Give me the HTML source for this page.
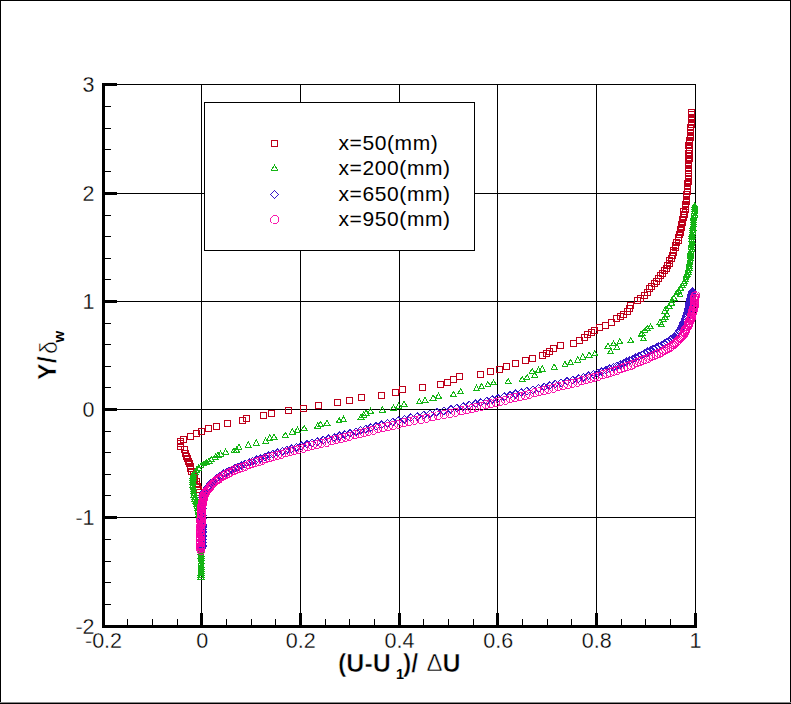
<!DOCTYPE html>
<html lang="en">
<head>
<meta charset="utf-8">
<title>Velocity profiles</title>
<style>html,body{margin:0;padding:0;background:#fff;overflow:hidden}svg{display:block}</style>
</head>
<body>
<svg width="791" height="704" viewBox="0 0 791 704" role="img" aria-label="Normalised velocity profiles">
<rect x="0" y="0" width="791" height="704" fill="#fff"/>
<g shape-rendering="crispEdges" fill="#000">
<rect x="201" y="84" width="1" height="542"/>
<rect x="300" y="84" width="1" height="542"/>
<rect x="399" y="84" width="1" height="542"/>
<rect x="497" y="84" width="1" height="542"/>
<rect x="596" y="84" width="1" height="542"/>
<rect x="695" y="84" width="1" height="542"/>
<rect x="103" y="517" width="593" height="1"/>
<rect x="103" y="409" width="593" height="1"/>
<rect x="103" y="301" width="593" height="1"/>
<rect x="103" y="193" width="593" height="1"/>
<rect x="103" y="84" width="593" height="1"/>
<rect x="102" y="83" width="3" height="545"/>
<rect x="102" y="625" width="595" height="3"/>
<rect x="103" y="604" width="8" height="1"/>
<rect x="103" y="582" width="8" height="1"/>
<rect x="103" y="561" width="8" height="1"/>
<rect x="103" y="539" width="8" height="1"/>
<rect x="103" y="516" width="14" height="3"/>
<rect x="103" y="495" width="8" height="1"/>
<rect x="103" y="474" width="8" height="1"/>
<rect x="103" y="452" width="8" height="1"/>
<rect x="103" y="431" width="8" height="1"/>
<rect x="103" y="408" width="14" height="3"/>
<rect x="103" y="387" width="8" height="1"/>
<rect x="103" y="366" width="8" height="1"/>
<rect x="103" y="344" width="8" height="1"/>
<rect x="103" y="323" width="8" height="1"/>
<rect x="103" y="300" width="14" height="3"/>
<rect x="103" y="279" width="8" height="1"/>
<rect x="103" y="258" width="8" height="1"/>
<rect x="103" y="236" width="8" height="1"/>
<rect x="103" y="215" width="8" height="1"/>
<rect x="103" y="192" width="14" height="3"/>
<rect x="103" y="171" width="8" height="1"/>
<rect x="103" y="149" width="8" height="1"/>
<rect x="103" y="128" width="8" height="1"/>
<rect x="103" y="106" width="8" height="1"/>
<rect x="103" y="83" width="14" height="3"/>
<rect x="127" y="619" width="1" height="8"/>
<rect x="152" y="619" width="1" height="8"/>
<rect x="177" y="619" width="1" height="8"/>
<rect x="200" y="613" width="3" height="14"/>
<rect x="226" y="619" width="1" height="8"/>
<rect x="251" y="619" width="1" height="8"/>
<rect x="275" y="619" width="1" height="8"/>
<rect x="299" y="613" width="3" height="14"/>
<rect x="325" y="619" width="1" height="8"/>
<rect x="349" y="619" width="1" height="8"/>
<rect x="374" y="619" width="1" height="8"/>
<rect x="398" y="613" width="3" height="14"/>
<rect x="423" y="619" width="1" height="8"/>
<rect x="448" y="619" width="1" height="8"/>
<rect x="473" y="619" width="1" height="8"/>
<rect x="496" y="613" width="3" height="14"/>
<rect x="522" y="619" width="1" height="8"/>
<rect x="547" y="619" width="1" height="8"/>
<rect x="571" y="619" width="1" height="8"/>
<rect x="595" y="613" width="3" height="14"/>
<rect x="621" y="619" width="1" height="8"/>
<rect x="645" y="619" width="1" height="8"/>
<rect x="670" y="619" width="1" height="8"/>
<rect x="694" y="613" width="3" height="14"/>
</g>
<g fill="none" stroke-width="1" shape-rendering="crispEdges">
<path stroke="#be001a" d="M196.5 489.5h6v6h-6zM195.5 486.5h6v6h-6zM194.5 483.5h6v6h-6zM193.5 481.5h6v6h-6zM193.5 478.5h6v6h-6zM191.5 476.5h6v6h-6zM191.5 473.5h6v6h-6zM190.5 471.5h6v6h-6zM188.5 468.5h6v6h-6zM187.5 465.5h6v6h-6zM187.5 463.5h6v6h-6zM186.5 460.5h6v6h-6zM185.5 458.5h6v6h-6zM184.5 455.5h6v6h-6zM183.5 453.5h6v6h-6zM182.5 450.5h6v6h-6zM181.5 446.5h6v6h-6zM177.5 443.5h6v6h-6zM177.5 440.5h6v6h-6zM177.5 438.5h6v6h-6zM180.5 436.5h6v6h-6zM187.5 433.5h6v6h-6zM193.5 430.5h6v6h-6zM198.5 428.5h6v6h-6zM205.5 425.5h6v6h-6zM213.5 423.5h6v6h-6zM224.5 420.5h6v6h-6zM239.5 417.5h6v6h-6zM243.5 415.5h6v6h-6zM260.5 412.5h6v6h-6zM268.5 410.5h6v6h-6zM285.5 407.5h6v6h-6zM300.5 405.5h6v6h-6zM315.5 402.5h6v6h-6zM334.5 399.5h6v6h-6zM346.5 397.5h6v6h-6zM358.5 394.5h6v6h-6zM378.5 392.5h6v6h-6zM392.5 389.5h6v6h-6zM399.5 386.5h6v6h-6zM419.5 384.5h6v6h-6zM437.5 381.5h6v6h-6zM444.5 379.5h6v6h-6zM450.5 376.5h6v6h-6zM456.5 373.5h6v6h-6zM477.5 371.5h6v6h-6zM487.5 368.5h6v6h-6zM496.5 366.5h6v6h-6zM503.5 363.5h6v6h-6zM512.5 360.5h6v6h-6zM522.5 357.5h6v6h-6zM529.5 355.5h6v6h-6zM539.5 352.5h6v6h-6zM543.5 350.5h6v6h-6zM546.5 348.5h6v6h-6zM550.5 345.5h6v6h-6zM557.5 342.5h6v6h-6zM570.5 340.5h6v6h-6zM576.5 337.5h6v6h-6zM581.5 334.5h6v6h-6zM584.5 331.5h6v6h-6zM588.5 329.5h6v6h-6zM591.5 327.5h6v6h-6zM596.5 324.5h6v6h-6zM602.5 322.5h6v6h-6zM608.5 319.5h6v6h-6zM613.5 315.5h6v6h-6zM617.5 313.5h6v6h-6zM620.5 311.5h6v6h-6zM624.5 308.5h6v6h-6zM626.5 305.5h6v6h-6zM627.5 302.5h6v6h-6zM634.5 297.5h6v6h-6zM637.5 295.5h6v6h-6zM641.5 292.5h6v6h-6zM644.5 289.5h6v6h-6zM646.5 285.5h6v6h-6zM648.5 283.5h6v6h-6zM651.5 280.5h6v6h-6zM653.5 278.5h6v6h-6zM655.5 275.5h6v6h-6zM657.5 272.5h6v6h-6zM659.5 270.5h6v6h-6zM661.5 267.5h6v6h-6zM663.5 265.5h6v6h-6zM664.5 262.5h6v6h-6zM666.5 260.5h6v6h-6zM666.5 257.5h6v6h-6zM668.5 255.5h6v6h-6zM669.5 252.5h6v6h-6zM670.5 249.5h6v6h-6zM670.5 247.5h6v6h-6zM672.5 244.5h6v6h-6zM672.5 242.5h6v6h-6zM673.5 239.5h6v6h-6zM675.5 237.5h6v6h-6zM675.5 234.5h6v6h-6zM676.5 231.5h6v6h-6zM677.5 229.5h6v6h-6zM677.5 226.5h6v6h-6zM678.5 224.5h6v6h-6zM678.5 221.5h6v6h-6zM679.5 219.5h6v6h-6zM679.5 216.5h6v6h-6zM680.5 214.5h6v6h-6zM681.5 211.5h6v6h-6zM680.5 208.5h6v6h-6zM682.5 206.5h6v6h-6zM682.5 203.5h6v6h-6zM682.5 201.5h6v6h-6zM683.5 198.5h6v6h-6zM683.5 196.5h6v6h-6zM683.5 193.5h6v6h-6zM683.5 191.5h6v6h-6zM684.5 188.5h6v6h-6zM684.5 185.5h6v6h-6zM684.5 183.5h6v6h-6zM684.5 180.5h6v6h-6zM685.5 178.5h6v6h-6zM685.5 175.5h6v6h-6zM685.5 173.5h6v6h-6zM685.5 170.5h6v6h-6zM685.5 167.5h6v6h-6zM685.5 165.5h6v6h-6zM685.5 162.5h6v6h-6zM685.5 160.5h6v6h-6zM685.5 157.5h6v6h-6zM686.5 155.5h6v6h-6zM686.5 152.5h6v6h-6zM685.5 150.5h6v6h-6zM686.5 147.5h6v6h-6zM686.5 144.5h6v6h-6zM685.5 142.5h6v6h-6zM686.5 139.5h6v6h-6zM686.5 137.5h6v6h-6zM687.5 134.5h6v6h-6zM687.5 132.5h6v6h-6zM687.5 129.5h6v6h-6zM687.5 127.5h6v6h-6zM687.5 124.5h6v6h-6zM688.5 121.5h6v6h-6zM688.5 119.5h6v6h-6zM688.5 116.5h6v6h-6zM688.5 114.5h6v6h-6zM688.5 111.5h6v6h-6zM688.5 109.5h6v6h-6z"/>
<path stroke="#14b414" d="M201 573.9l2.9 5.1h-5.8zM201.2 572l2.9 5.1h-5.8zM201.1 570.1l2.9 5.1h-5.8zM201.4 568.2l2.9 5.1h-5.8zM201.3 566.3l2.9 5.1h-5.8zM201.2 564.4l2.9 5.1h-5.8zM201.3 562.5l2.9 5.1h-5.8zM201.1 560.6l2.9 5.1h-5.8zM201.4 558.7l2.9 5.1h-5.8zM201.2 556.8l2.9 5.1h-5.8zM201.3 554.9l2.9 5.1h-5.8zM200.9 553l2.9 5.1h-5.8zM201.3 551.1l2.9 5.1h-5.8zM200.9 549.2l2.9 5.1h-5.8zM200.8 547.3l2.9 5.1h-5.8zM201.1 545.4l2.9 5.1h-5.8zM201 543.5l2.9 5.1h-5.8zM201.2 541.6l2.9 5.1h-5.8zM201.6 539.7l2.9 5.1h-5.8zM201 537.8l2.9 5.1h-5.8zM201.1 535.9l2.9 5.1h-5.8zM201.2 534l2.9 5.1h-5.8zM201.3 532.1l2.9 5.1h-5.8zM201.1 530.2l2.9 5.1h-5.8zM201.1 528.3l2.9 5.1h-5.8zM201.2 526.4l2.9 5.1h-5.8zM201.1 524.5l2.9 5.1h-5.8zM200.6 522.6l2.9 5.1h-5.8zM200.7 520.7l2.9 5.1h-5.8zM200.6 518.8l2.9 5.1h-5.8zM200.1 516.9l2.9 5.1h-5.8zM199.9 515l2.9 5.1h-5.8zM199.2 513.1l2.9 5.1h-5.8zM199.1 511.2l2.9 5.1h-5.8zM198.4 509.3l2.9 5.1h-5.8zM198 507.4l2.9 5.1h-5.8zM197.4 505.5l2.9 5.1h-5.8zM197.1 503.6l2.9 5.1h-5.8zM196.3 501.7l2.9 5.1h-5.8zM196.1 499.8l2.9 5.1h-5.8zM195.9 497.9l2.9 5.1h-5.8zM195 496l2.9 5.1h-5.8zM195.1 494.1l2.9 5.1h-5.8zM194.1 492.2l2.9 5.1h-5.8zM194.2 490.3l2.9 5.1h-5.8zM193.5 488.4l2.9 5.1h-5.8zM193.6 486.5l2.9 5.1h-5.8zM193.2 484.6l2.9 5.1h-5.8zM192.7 482.7l2.9 5.1h-5.8zM193.1 480.8l2.9 5.1h-5.8zM193.1 478.9l2.9 5.1h-5.8zM192.8 477l2.9 5.1h-5.8zM192.9 475.1l2.9 5.1h-5.8zM193.1 473.2l2.9 5.1h-5.8zM193.3 471.3l2.9 5.1h-5.8zM195 469l2.9 5.1h-5.8zM196.6 467.2l2.9 5.1h-5.8zM198.6 465l2.9 5.1h-5.8zM201.2 462.8l2.9 5.1h-5.8zM204 460.8l2.9 5.1h-5.8zM206.3 459.4l2.9 5.1h-5.8zM209 457.9l2.9 5.1h-5.8zM211.5 456.6l2.9 5.1h-5.8zM215.4 454.1l2.9 5.1h-5.8zM218 452.2l2.9 5.1h-5.8zM220.5 450.9l2.9 5.1h-5.8zM225.6 449l2.9 5.1h-5.8zM234 447.7l2.9 5.1h-5.8zM236.5 447l2.9 5.1h-5.8zM239 444.4l2.9 5.1h-5.8zM248.3 441.9l2.9 5.1h-5.8zM256.3 440l2.9 5.1h-5.8zM265.7 438.1l2.9 5.1h-5.8zM269.7 434.9l2.9 5.1h-5.8zM274 434l2.9 5.1h-5.8zM285.3 432.2l2.9 5.1h-5.8zM292.4 428.9l2.9 5.1h-5.8zM297.4 427.2l2.9 5.1h-5.8zM304.2 425.4l2.9 5.1h-5.8zM317.6 422.9l2.9 5.1h-5.8zM320.7 421.4l2.9 5.1h-5.8zM327 420.1l2.9 5.1h-5.8zM339.1 417.8l2.9 5.1h-5.8zM343.4 416.3l2.9 5.1h-5.8zM361.1 414l2.9 5.1h-5.8zM363.7 412l2.9 5.1h-5.8zM366.2 410.2l2.9 5.1h-5.8zM370.5 408.2l2.9 5.1h-5.8zM382.4 406.9l2.9 5.1h-5.8zM393.5 404.9l2.9 5.1h-5.8zM398.6 403.1l2.9 5.1h-5.8zM404.1 401.1l2.9 5.1h-5.8zM419.3 398.8l2.9 5.1h-5.8zM425.1 397.3l2.9 5.1h-5.8zM433.2 395l2.9 5.1h-5.8zM438.5 393l2.9 5.1h-5.8zM453.4 391.4l2.9 5.1h-5.8zM460.6 388.7l2.9 5.1h-5.8zM476.5 385.4l2.9 5.1h-5.8zM481.6 383.6l2.9 5.1h-5.8zM487.9 381.6l2.9 5.1h-5.8zM493.5 379.8l2.9 5.1h-5.8zM508.2 378.5l2.9 5.1h-5.8zM522.1 376.5l2.9 5.1h-5.8zM527.1 374.7l2.9 5.1h-5.8zM534.7 372.2l2.9 5.1h-5.8zM532.2 368.4l2.9 5.1h-5.8zM538.5 367.2l2.9 5.1h-5.8zM542.3 365.9l2.9 5.1h-5.8zM554.2 364.1l2.9 5.1h-5.8zM565 361.6l2.9 5.1h-5.8zM570.6 359.6l2.9 5.1h-5.8zM577.7 357l2.9 5.1h-5.8zM582.7 354l2.9 5.1h-5.8zM589.1 352l2.9 5.1h-5.8zM594.9 350.7l2.9 5.1h-5.8zM610.6 348.7l2.9 5.1h-5.8zM616.9 344.4l2.9 5.1h-5.8zM608 343.1l2.9 5.1h-5.8zM613.5 340.8l2.9 5.1h-5.8zM619.9 338.8l2.9 5.1h-5.8zM630.8 337.6l2.9 5.1h-5.8zM643.4 335.6l2.9 5.1h-5.8zM641 331.4l2.9 5.1h-5.8zM642.2 330.5l2.9 5.1h-5.8zM645 327.7l2.9 5.1h-5.8zM647.2 325.4l2.9 5.1h-5.8zM650.5 323.8l2.9 5.1h-5.8zM661.4 321.4l2.9 5.1h-5.8zM660 319.2l2.9 5.1h-5.8zM663.8 316.8l2.9 5.1h-5.8zM665 313.9l2.9 5.1h-5.8zM666.9 311.3l2.9 5.1h-5.8zM664.5 308.4l2.9 5.1h-5.8zM666 305.8l2.9 5.1h-5.8zM669 303l2.9 5.1h-5.8zM671.6 300.4l2.9 5.1h-5.8zM672 297.6l2.9 5.1h-5.8zM673.9 294.9l2.9 5.1h-5.8zM680.2 291.8l2.9 5.1h-5.8zM677 289.8l2.9 5.1h-5.8zM678.6 287.9l2.9 5.1h-5.8zM680.5 285.2l2.9 5.1h-5.8zM682.5 282.4l2.9 5.1h-5.8zM684 280.4l2.9 5.1h-5.8zM684.4 278.5l2.9 5.1h-5.8zM685.4 276.6l2.9 5.1h-5.8zM685.9 274.7l2.9 5.1h-5.8zM686.6 272.8l2.9 5.1h-5.8zM686.9 270.9l2.9 5.1h-5.8zM688.2 269l2.9 5.1h-5.8zM688.2 267.1l2.9 5.1h-5.8zM689 265.2l2.9 5.1h-5.8zM689.1 263.3l2.9 5.1h-5.8zM689.3 261.4l2.9 5.1h-5.8zM689.7 259.5l2.9 5.1h-5.8zM689.9 257.6l2.9 5.1h-5.8zM690.3 255.7l2.9 5.1h-5.8zM690.4 253.8l2.9 5.1h-5.8zM690.6 251.9l2.9 5.1h-5.8zM690.5 250l2.9 5.1h-5.8zM690.8 248.1l2.9 5.1h-5.8zM691.7 246.2l2.9 5.1h-5.8zM691.2 244.3l2.9 5.1h-5.8zM691.2 242.4l2.9 5.1h-5.8zM691.8 240.5l2.9 5.1h-5.8zM692.3 238.6l2.9 5.1h-5.8zM691.6 236.7l2.9 5.1h-5.8zM692.1 234.8l2.9 5.1h-5.8zM692.1 232.9l2.9 5.1h-5.8zM691.9 231l2.9 5.1h-5.8zM692.8 229.1l2.9 5.1h-5.8zM692.8 227.2l2.9 5.1h-5.8zM693 225.3l2.9 5.1h-5.8zM692.9 223.4l2.9 5.1h-5.8zM693.5 221.5l2.9 5.1h-5.8zM693.4 219.6l2.9 5.1h-5.8zM693.7 217.7l2.9 5.1h-5.8zM693.5 215.8l2.9 5.1h-5.8zM693.7 213.9l2.9 5.1h-5.8zM694.6 212l2.9 5.1h-5.8zM694.2 210.1l2.9 5.1h-5.8zM694.6 208.2l2.9 5.1h-5.8zM694.6 206.3l2.9 5.1h-5.8zM694.6 204.4l2.9 5.1h-5.8zM694.7 202.5l2.9 5.1h-5.8z"/>
<path stroke="#3a18c8" d="M202.4 544.2l3.8 3.8l-3.8 3.8l-3.8 -3.8zM202.4 542.8l3.8 3.8l-3.8 3.8l-3.8 -3.8zM202.6 541.4l3.8 3.8l-3.8 3.8l-3.8 -3.8zM202.1 540l3.8 3.8l-3.8 3.8l-3.8 -3.8zM202.2 538.6l3.8 3.8l-3.8 3.8l-3.8 -3.8zM202.4 537.2l3.8 3.8l-3.8 3.8l-3.8 -3.8zM202.5 535.8l3.8 3.8l-3.8 3.8l-3.8 -3.8zM202.3 534.4l3.8 3.8l-3.8 3.8l-3.8 -3.8zM202.6 533l3.8 3.8l-3.8 3.8l-3.8 -3.8zM202.4 531.6l3.8 3.8l-3.8 3.8l-3.8 -3.8zM202.2 530.2l3.8 3.8l-3.8 3.8l-3.8 -3.8zM202.2 528.8l3.8 3.8l-3.8 3.8l-3.8 -3.8zM202.6 527.4l3.8 3.8l-3.8 3.8l-3.8 -3.8zM202.5 526l3.8 3.8l-3.8 3.8l-3.8 -3.8zM202 524.6l3.8 3.8l-3.8 3.8l-3.8 -3.8zM202.6 523.2l3.8 3.8l-3.8 3.8l-3.8 -3.8zM202.4 521.8l3.8 3.8l-3.8 3.8l-3.8 -3.8zM202.5 520.4l3.8 3.8l-3.8 3.8l-3.8 -3.8zM202.1 519l3.8 3.8l-3.8 3.8l-3.8 -3.8zM202.1 517.6l3.8 3.8l-3.8 3.8l-3.8 -3.8zM201.9 516.2l3.8 3.8l-3.8 3.8l-3.8 -3.8zM202.6 514.8l3.8 3.8l-3.8 3.8l-3.8 -3.8zM202 513.4l3.8 3.8l-3.8 3.8l-3.8 -3.8zM202.3 512l3.8 3.8l-3.8 3.8l-3.8 -3.8zM201.9 510.6l3.8 3.8l-3.8 3.8l-3.8 -3.8zM202 509.2l3.8 3.8l-3.8 3.8l-3.8 -3.8zM201.7 507.8l3.8 3.8l-3.8 3.8l-3.8 -3.8zM202 506.4l3.8 3.8l-3.8 3.8l-3.8 -3.8zM202.3 505l3.8 3.8l-3.8 3.8l-3.8 -3.8zM201.9 503.6l3.8 3.8l-3.8 3.8l-3.8 -3.8zM202.4 502.2l3.8 3.8l-3.8 3.8l-3.8 -3.8zM202.4 500.8l3.8 3.8l-3.8 3.8l-3.8 -3.8zM202.2 499.4l3.8 3.8l-3.8 3.8l-3.8 -3.8zM202.4 498l3.8 3.8l-3.8 3.8l-3.8 -3.8zM202.5 496.6l3.8 3.8l-3.8 3.8l-3.8 -3.8zM202.7 495.2l3.8 3.8l-3.8 3.8l-3.8 -3.8zM202.8 493.8l3.8 3.8l-3.8 3.8l-3.8 -3.8zM202.9 492.4l3.8 3.8l-3.8 3.8l-3.8 -3.8zM203.2 491l3.8 3.8l-3.8 3.8l-3.8 -3.8zM203.5 489.6l3.8 3.8l-3.8 3.8l-3.8 -3.8zM204.2 488.2l3.8 3.8l-3.8 3.8l-3.8 -3.8zM205.4 486.8l3.8 3.8l-3.8 3.8l-3.8 -3.8zM206.6 485.4l3.8 3.8l-3.8 3.8l-3.8 -3.8zM207.2 484l3.8 3.8l-3.8 3.8l-3.8 -3.8zM208.5 482.6l3.8 3.8l-3.8 3.8l-3.8 -3.8zM209.6 481.2l3.8 3.8l-3.8 3.8l-3.8 -3.8zM210.9 479.8l3.8 3.8l-3.8 3.8l-3.8 -3.8zM212.7 478.4l3.8 3.8l-3.8 3.8l-3.8 -3.8zM214 477l3.8 3.8l-3.8 3.8l-3.8 -3.8zM216 475.6l3.8 3.8l-3.8 3.8l-3.8 -3.8zM217.3 474.2l3.8 3.8l-3.8 3.8l-3.8 -3.8zM219.4 472.8l3.8 3.8l-3.8 3.8l-3.8 -3.8zM221.4 471.4l3.8 3.8l-3.8 3.8l-3.8 -3.8zM223.5 470l3.8 3.8l-3.8 3.8l-3.8 -3.8zM226.3 468.6l3.8 3.8l-3.8 3.8l-3.8 -3.8zM228.9 467.2l3.8 3.8l-3.8 3.8l-3.8 -3.8zM232 465.8l3.8 3.8l-3.8 3.8l-3.8 -3.8zM235 464.4l3.8 3.8l-3.8 3.8l-3.8 -3.8zM238.1 463l3.8 3.8l-3.8 3.8l-3.8 -3.8zM241.8 461.6l3.8 3.8l-3.8 3.8l-3.8 -3.8zM245.4 460.2l3.8 3.8l-3.8 3.8l-3.8 -3.8zM249.2 458.8l3.8 3.8l-3.8 3.8l-3.8 -3.8zM252.6 457.4l3.8 3.8l-3.8 3.8l-3.8 -3.8zM256.6 456l3.8 3.8l-3.8 3.8l-3.8 -3.8zM260.2 454.6l3.8 3.8l-3.8 3.8l-3.8 -3.8zM264.7 453.2l3.8 3.8l-3.8 3.8l-3.8 -3.8zM268.6 451.8l3.8 3.8l-3.8 3.8l-3.8 -3.8zM272.8 450.4l3.8 3.8l-3.8 3.8l-3.8 -3.8zM277.6 449l3.8 3.8l-3.8 3.8l-3.8 -3.8zM282.5 447.6l3.8 3.8l-3.8 3.8l-3.8 -3.8zM286.7 446.2l3.8 3.8l-3.8 3.8l-3.8 -3.8zM291.6 444.8l3.8 3.8l-3.8 3.8l-3.8 -3.8zM296.6 443.4l3.8 3.8l-3.8 3.8l-3.8 -3.8zM301.6 442l3.8 3.8l-3.8 3.8l-3.8 -3.8zM307 440.6l3.8 3.8l-3.8 3.8l-3.8 -3.8zM312.1 439.2l3.8 3.8l-3.8 3.8l-3.8 -3.8zM317.5 437.8l3.8 3.8l-3.8 3.8l-3.8 -3.8zM323.3 436.4l3.8 3.8l-3.8 3.8l-3.8 -3.8zM328.6 435l3.8 3.8l-3.8 3.8l-3.8 -3.8zM334.3 433.6l3.8 3.8l-3.8 3.8l-3.8 -3.8zM339.5 432.2l3.8 3.8l-3.8 3.8l-3.8 -3.8zM344.9 430.8l3.8 3.8l-3.8 3.8l-3.8 -3.8zM350.1 429.4l3.8 3.8l-3.8 3.8l-3.8 -3.8zM355.9 428l3.8 3.8l-3.8 3.8l-3.8 -3.8zM360.5 426.6l3.8 3.8l-3.8 3.8l-3.8 -3.8zM365.6 425.2l3.8 3.8l-3.8 3.8l-3.8 -3.8zM370.7 423.8l3.8 3.8l-3.8 3.8l-3.8 -3.8zM375.9 422.4l3.8 3.8l-3.8 3.8l-3.8 -3.8zM381.4 421l3.8 3.8l-3.8 3.8l-3.8 -3.8zM387.4 419.6l3.8 3.8l-3.8 3.8l-3.8 -3.8zM392.6 418.2l3.8 3.8l-3.8 3.8l-3.8 -3.8zM398.4 416.8l3.8 3.8l-3.8 3.8l-3.8 -3.8zM404.6 415.4l3.8 3.8l-3.8 3.8l-3.8 -3.8zM410.7 414l3.8 3.8l-3.8 3.8l-3.8 -3.8zM417.3 412.6l3.8 3.8l-3.8 3.8l-3.8 -3.8zM423.7 411.2l3.8 3.8l-3.8 3.8l-3.8 -3.8zM430 409.8l3.8 3.8l-3.8 3.8l-3.8 -3.8zM436.7 408.4l3.8 3.8l-3.8 3.8l-3.8 -3.8zM443.8 407l3.8 3.8l-3.8 3.8l-3.8 -3.8zM450.9 405.6l3.8 3.8l-3.8 3.8l-3.8 -3.8zM456.6 404.2l3.8 3.8l-3.8 3.8l-3.8 -3.8zM463.5 402.8l3.8 3.8l-3.8 3.8l-3.8 -3.8zM469.2 401.4l3.8 3.8l-3.8 3.8l-3.8 -3.8zM475.5 400l3.8 3.8l-3.8 3.8l-3.8 -3.8zM480.8 398.6l3.8 3.8l-3.8 3.8l-3.8 -3.8zM486.7 397.2l3.8 3.8l-3.8 3.8l-3.8 -3.8zM492.2 395.8l3.8 3.8l-3.8 3.8l-3.8 -3.8zM498 394.4l3.8 3.8l-3.8 3.8l-3.8 -3.8zM504.3 393l3.8 3.8l-3.8 3.8l-3.8 -3.8zM510 391.6l3.8 3.8l-3.8 3.8l-3.8 -3.8zM515.5 390.2l3.8 3.8l-3.8 3.8l-3.8 -3.8zM521.2 388.8l3.8 3.8l-3.8 3.8l-3.8 -3.8zM526.8 387.4l3.8 3.8l-3.8 3.8l-3.8 -3.8zM532.8 386l3.8 3.8l-3.8 3.8l-3.8 -3.8zM538.6 384.6l3.8 3.8l-3.8 3.8l-3.8 -3.8zM544.2 383.2l3.8 3.8l-3.8 3.8l-3.8 -3.8zM549.8 381.8l3.8 3.8l-3.8 3.8l-3.8 -3.8zM555.2 380.4l3.8 3.8l-3.8 3.8l-3.8 -3.8zM561.2 379l3.8 3.8l-3.8 3.8l-3.8 -3.8zM567 377.6l3.8 3.8l-3.8 3.8l-3.8 -3.8zM572.9 376.2l3.8 3.8l-3.8 3.8l-3.8 -3.8zM578.6 374.8l3.8 3.8l-3.8 3.8l-3.8 -3.8zM583.6 373.4l3.8 3.8l-3.8 3.8l-3.8 -3.8zM588.6 372l3.8 3.8l-3.8 3.8l-3.8 -3.8zM593.5 370.6l3.8 3.8l-3.8 3.8l-3.8 -3.8zM597.8 369.2l3.8 3.8l-3.8 3.8l-3.8 -3.8zM601.9 367.8l3.8 3.8l-3.8 3.8l-3.8 -3.8zM605.9 366.4l3.8 3.8l-3.8 3.8l-3.8 -3.8zM609.5 365l3.8 3.8l-3.8 3.8l-3.8 -3.8zM613.4 363.6l3.8 3.8l-3.8 3.8l-3.8 -3.8zM616.7 362.2l3.8 3.8l-3.8 3.8l-3.8 -3.8zM620.2 360.8l3.8 3.8l-3.8 3.8l-3.8 -3.8zM623.4 359.4l3.8 3.8l-3.8 3.8l-3.8 -3.8zM626.5 358l3.8 3.8l-3.8 3.8l-3.8 -3.8zM629.7 356.6l3.8 3.8l-3.8 3.8l-3.8 -3.8zM632.9 355.2l3.8 3.8l-3.8 3.8l-3.8 -3.8zM635.9 353.8l3.8 3.8l-3.8 3.8l-3.8 -3.8zM639 352.4l3.8 3.8l-3.8 3.8l-3.8 -3.8zM641.8 351l3.8 3.8l-3.8 3.8l-3.8 -3.8zM644.4 349.6l3.8 3.8l-3.8 3.8l-3.8 -3.8zM647.5 348.2l3.8 3.8l-3.8 3.8l-3.8 -3.8zM650.2 346.8l3.8 3.8l-3.8 3.8l-3.8 -3.8zM653.3 345.4l3.8 3.8l-3.8 3.8l-3.8 -3.8zM656.3 344l3.8 3.8l-3.8 3.8l-3.8 -3.8zM658.8 342.6l3.8 3.8l-3.8 3.8l-3.8 -3.8zM662 341.2l3.8 3.8l-3.8 3.8l-3.8 -3.8zM664.8 339.8l3.8 3.8l-3.8 3.8l-3.8 -3.8zM667.2 338.4l3.8 3.8l-3.8 3.8l-3.8 -3.8zM669.2 337l3.8 3.8l-3.8 3.8l-3.8 -3.8zM671.1 335.6l3.8 3.8l-3.8 3.8l-3.8 -3.8zM672.7 334.2l3.8 3.8l-3.8 3.8l-3.8 -3.8zM674.4 332.8l3.8 3.8l-3.8 3.8l-3.8 -3.8zM675.7 331.4l3.8 3.8l-3.8 3.8l-3.8 -3.8zM677.2 330l3.8 3.8l-3.8 3.8l-3.8 -3.8zM678.2 328.6l3.8 3.8l-3.8 3.8l-3.8 -3.8zM679.5 327.2l3.8 3.8l-3.8 3.8l-3.8 -3.8zM680.4 325.8l3.8 3.8l-3.8 3.8l-3.8 -3.8zM681.1 324.4l3.8 3.8l-3.8 3.8l-3.8 -3.8zM681.8 323l3.8 3.8l-3.8 3.8l-3.8 -3.8zM682.7 321.6l3.8 3.8l-3.8 3.8l-3.8 -3.8zM682.8 320.2l3.8 3.8l-3.8 3.8l-3.8 -3.8zM683.8 318.8l3.8 3.8l-3.8 3.8l-3.8 -3.8zM684.4 317.4l3.8 3.8l-3.8 3.8l-3.8 -3.8zM684.9 316l3.8 3.8l-3.8 3.8l-3.8 -3.8zM685.5 314.6l3.8 3.8l-3.8 3.8l-3.8 -3.8zM685.9 313.2l3.8 3.8l-3.8 3.8l-3.8 -3.8zM686.5 311.8l3.8 3.8l-3.8 3.8l-3.8 -3.8zM687.2 310.4l3.8 3.8l-3.8 3.8l-3.8 -3.8zM687.6 309l3.8 3.8l-3.8 3.8l-3.8 -3.8zM688 307.6l3.8 3.8l-3.8 3.8l-3.8 -3.8zM688 306.2l3.8 3.8l-3.8 3.8l-3.8 -3.8zM688.8 304.8l3.8 3.8l-3.8 3.8l-3.8 -3.8zM689.2 303.4l3.8 3.8l-3.8 3.8l-3.8 -3.8zM689.5 302l3.8 3.8l-3.8 3.8l-3.8 -3.8zM689.6 300.6l3.8 3.8l-3.8 3.8l-3.8 -3.8zM689.5 299.2l3.8 3.8l-3.8 3.8l-3.8 -3.8zM690.3 297.8l3.8 3.8l-3.8 3.8l-3.8 -3.8zM690.3 296.4l3.8 3.8l-3.8 3.8l-3.8 -3.8zM690.1 295l3.8 3.8l-3.8 3.8l-3.8 -3.8zM691 293.6l3.8 3.8l-3.8 3.8l-3.8 -3.8zM691 292.2l3.8 3.8l-3.8 3.8l-3.8 -3.8zM691.3 290.8l3.8 3.8l-3.8 3.8l-3.8 -3.8zM691.8 289.4l3.8 3.8l-3.8 3.8l-3.8 -3.8zM692.5 288l3.8 3.8l-3.8 3.8l-3.8 -3.8z"/>
<path stroke="#f800a4" stroke-width="0.9" d="M199.4 546h3.2l2.4 2.4v3.2l-2.4 2.4h-3.2l-2.4 -2.4v-3.2zM199.2 544.8h3.2l2.4 2.4v3.2l-2.4 2.4h-3.2l-2.4 -2.4v-3.2zM199.2 543.6h3.2l2.4 2.4v3.2l-2.4 2.4h-3.2l-2.4 -2.4v-3.2zM199.2 542.4h3.2l2.4 2.4v3.2l-2.4 2.4h-3.2l-2.4 -2.4v-3.2zM199.4 541.2h3.2l2.4 2.4v3.2l-2.4 2.4h-3.2l-2.4 -2.4v-3.2zM199.3 540h3.2l2.4 2.4v3.2l-2.4 2.4h-3.2l-2.4 -2.4v-3.2zM199.2 538.8h3.2l2.4 2.4v3.2l-2.4 2.4h-3.2l-2.4 -2.4v-3.2zM199 537.6h3.2l2.4 2.4v3.2l-2.4 2.4h-3.2l-2.4 -2.4v-3.2zM198.8 536.4h3.2l2.4 2.4v3.2l-2.4 2.4h-3.2l-2.4 -2.4v-3.2zM199.3 535.2h3.2l2.4 2.4v3.2l-2.4 2.4h-3.2l-2.4 -2.4v-3.2zM199.3 534h3.2l2.4 2.4v3.2l-2.4 2.4h-3.2l-2.4 -2.4v-3.2zM199.1 532.8h3.2l2.4 2.4v3.2l-2.4 2.4h-3.2l-2.4 -2.4v-3.2zM199.2 531.6h3.2l2.4 2.4v3.2l-2.4 2.4h-3.2l-2.4 -2.4v-3.2zM199.3 530.4h3.2l2.4 2.4v3.2l-2.4 2.4h-3.2l-2.4 -2.4v-3.2zM199.3 529.2h3.2l2.4 2.4v3.2l-2.4 2.4h-3.2l-2.4 -2.4v-3.2zM199.3 528h3.2l2.4 2.4v3.2l-2.4 2.4h-3.2l-2.4 -2.4v-3.2zM199 526.8h3.2l2.4 2.4v3.2l-2.4 2.4h-3.2l-2.4 -2.4v-3.2zM199.4 525.6h3.2l2.4 2.4v3.2l-2.4 2.4h-3.2l-2.4 -2.4v-3.2zM198.9 524.4h3.2l2.4 2.4v3.2l-2.4 2.4h-3.2l-2.4 -2.4v-3.2zM199.4 523.2h3.2l2.4 2.4v3.2l-2.4 2.4h-3.2l-2.4 -2.4v-3.2zM199.3 522h3.2l2.4 2.4v3.2l-2.4 2.4h-3.2l-2.4 -2.4v-3.2zM199.5 520.8h3.2l2.4 2.4v3.2l-2.4 2.4h-3.2l-2.4 -2.4v-3.2zM199.7 519.6h3.2l2.4 2.4v3.2l-2.4 2.4h-3.2l-2.4 -2.4v-3.2zM199.7 518.4h3.2l2.4 2.4v3.2l-2.4 2.4h-3.2l-2.4 -2.4v-3.2zM199.2 517.2h3.2l2.4 2.4v3.2l-2.4 2.4h-3.2l-2.4 -2.4v-3.2zM199.1 516h3.2l2.4 2.4v3.2l-2.4 2.4h-3.2l-2.4 -2.4v-3.2zM199.7 514.8h3.2l2.4 2.4v3.2l-2.4 2.4h-3.2l-2.4 -2.4v-3.2zM199.4 513.6h3.2l2.4 2.4v3.2l-2.4 2.4h-3.2l-2.4 -2.4v-3.2zM199.7 512.4h3.2l2.4 2.4v3.2l-2.4 2.4h-3.2l-2.4 -2.4v-3.2zM199.9 511.2h3.2l2.4 2.4v3.2l-2.4 2.4h-3.2l-2.4 -2.4v-3.2zM199.5 510h3.2l2.4 2.4v3.2l-2.4 2.4h-3.2l-2.4 -2.4v-3.2zM199.4 508.8h3.2l2.4 2.4v3.2l-2.4 2.4h-3.2l-2.4 -2.4v-3.2zM200 507.6h3.2l2.4 2.4v3.2l-2.4 2.4h-3.2l-2.4 -2.4v-3.2zM200.1 506.4h3.2l2.4 2.4v3.2l-2.4 2.4h-3.2l-2.4 -2.4v-3.2zM200.1 505.2h3.2l2.4 2.4v3.2l-2.4 2.4h-3.2l-2.4 -2.4v-3.2zM200.3 504h3.2l2.4 2.4v3.2l-2.4 2.4h-3.2l-2.4 -2.4v-3.2zM200.3 502.8h3.2l2.4 2.4v3.2l-2.4 2.4h-3.2l-2.4 -2.4v-3.2zM200.3 501.6h3.2l2.4 2.4v3.2l-2.4 2.4h-3.2l-2.4 -2.4v-3.2zM200.7 500.4h3.2l2.4 2.4v3.2l-2.4 2.4h-3.2l-2.4 -2.4v-3.2zM200.7 499.2h3.2l2.4 2.4v3.2l-2.4 2.4h-3.2l-2.4 -2.4v-3.2zM200.8 498h3.2l2.4 2.4v3.2l-2.4 2.4h-3.2l-2.4 -2.4v-3.2zM201.4 496.8h3.2l2.4 2.4v3.2l-2.4 2.4h-3.2l-2.4 -2.4v-3.2zM201.5 495.6h3.2l2.4 2.4v3.2l-2.4 2.4h-3.2l-2.4 -2.4v-3.2zM201.9 494.4h3.2l2.4 2.4v3.2l-2.4 2.4h-3.2l-2.4 -2.4v-3.2zM201.9 493.2h3.2l2.4 2.4v3.2l-2.4 2.4h-3.2l-2.4 -2.4v-3.2zM202.3 492h3.2l2.4 2.4v3.2l-2.4 2.4h-3.2l-2.4 -2.4v-3.2zM202.7 490.8h3.2l2.4 2.4v3.2l-2.4 2.4h-3.2l-2.4 -2.4v-3.2zM203.3 489.6h3.2l2.4 2.4v3.2l-2.4 2.4h-3.2l-2.4 -2.4v-3.2zM204.3 488.4h3.2l2.4 2.4v3.2l-2.4 2.4h-3.2l-2.4 -2.4v-3.2zM204.9 487.2h3.2l2.4 2.4v3.2l-2.4 2.4h-3.2l-2.4 -2.4v-3.2zM206 486h3.2l2.4 2.4v3.2l-2.4 2.4h-3.2l-2.4 -2.4v-3.2zM206.8 484.8h3.2l2.4 2.4v3.2l-2.4 2.4h-3.2l-2.4 -2.4v-3.2zM208.1 483.6h3.2l2.4 2.4v3.2l-2.4 2.4h-3.2l-2.4 -2.4v-3.2zM208.4 482.4h3.2l2.4 2.4v3.2l-2.4 2.4h-3.2l-2.4 -2.4v-3.2zM210.1 481.2h3.2l2.4 2.4v3.2l-2.4 2.4h-3.2l-2.4 -2.4v-3.2zM211.1 480h3.2l2.4 2.4v3.2l-2.4 2.4h-3.2l-2.4 -2.4v-3.2zM212.4 478.8h3.2l2.4 2.4v3.2l-2.4 2.4h-3.2l-2.4 -2.4v-3.2zM213.5 477.6h3.2l2.4 2.4v3.2l-2.4 2.4h-3.2l-2.4 -2.4v-3.2zM215.1 476.4h3.2l2.4 2.4v3.2l-2.4 2.4h-3.2l-2.4 -2.4v-3.2zM216.8 475.2h3.2l2.4 2.4v3.2l-2.4 2.4h-3.2l-2.4 -2.4v-3.2zM218.3 474h3.2l2.4 2.4v3.2l-2.4 2.4h-3.2l-2.4 -2.4v-3.2zM220.1 472.8h3.2l2.4 2.4v3.2l-2.4 2.4h-3.2l-2.4 -2.4v-3.2zM221.9 471.6h3.2l2.4 2.4v3.2l-2.4 2.4h-3.2l-2.4 -2.4v-3.2zM224.3 470.4h3.2l2.4 2.4v3.2l-2.4 2.4h-3.2l-2.4 -2.4v-3.2zM226.5 469.2h3.2l2.4 2.4v3.2l-2.4 2.4h-3.2l-2.4 -2.4v-3.2zM228.7 468h3.2l2.4 2.4v3.2l-2.4 2.4h-3.2l-2.4 -2.4v-3.2zM231.6 466.8h3.2l2.4 2.4v3.2l-2.4 2.4h-3.2l-2.4 -2.4v-3.2zM234.2 465.6h3.2l2.4 2.4v3.2l-2.4 2.4h-3.2l-2.4 -2.4v-3.2zM237 464.4h3.2l2.4 2.4v3.2l-2.4 2.4h-3.2l-2.4 -2.4v-3.2zM240.6 463.2h3.2l2.4 2.4v3.2l-2.4 2.4h-3.2l-2.4 -2.4v-3.2zM244.2 462h3.2l2.4 2.4v3.2l-2.4 2.4h-3.2l-2.4 -2.4v-3.2zM247.1 460.8h3.2l2.4 2.4v3.2l-2.4 2.4h-3.2l-2.4 -2.4v-3.2zM250.1 459.6h3.2l2.4 2.4v3.2l-2.4 2.4h-3.2l-2.4 -2.4v-3.2zM253.5 458.4h3.2l2.4 2.4v3.2l-2.4 2.4h-3.2l-2.4 -2.4v-3.2zM257.3 457.2h3.2l2.4 2.4v3.2l-2.4 2.4h-3.2l-2.4 -2.4v-3.2zM260.5 456h3.2l2.4 2.4v3.2l-2.4 2.4h-3.2l-2.4 -2.4v-3.2zM264.1 454.8h3.2l2.4 2.4v3.2l-2.4 2.4h-3.2l-2.4 -2.4v-3.2zM267.8 453.6h3.2l2.4 2.4v3.2l-2.4 2.4h-3.2l-2.4 -2.4v-3.2zM271.6 452.4h3.2l2.4 2.4v3.2l-2.4 2.4h-3.2l-2.4 -2.4v-3.2zM275.8 451.2h3.2l2.4 2.4v3.2l-2.4 2.4h-3.2l-2.4 -2.4v-3.2zM279.9 450h3.2l2.4 2.4v3.2l-2.4 2.4h-3.2l-2.4 -2.4v-3.2zM284 448.8h3.2l2.4 2.4v3.2l-2.4 2.4h-3.2l-2.4 -2.4v-3.2zM288.1 447.6h3.2l2.4 2.4v3.2l-2.4 2.4h-3.2l-2.4 -2.4v-3.2zM292.8 446.4h3.2l2.4 2.4v3.2l-2.4 2.4h-3.2l-2.4 -2.4v-3.2zM297 445.2h3.2l2.4 2.4v3.2l-2.4 2.4h-3.2l-2.4 -2.4v-3.2zM301.8 444h3.2l2.4 2.4v3.2l-2.4 2.4h-3.2l-2.4 -2.4v-3.2zM305.9 442.8h3.2l2.4 2.4v3.2l-2.4 2.4h-3.2l-2.4 -2.4v-3.2zM310.7 441.6h3.2l2.4 2.4v3.2l-2.4 2.4h-3.2l-2.4 -2.4v-3.2zM315.4 440.4h3.2l2.4 2.4v3.2l-2.4 2.4h-3.2l-2.4 -2.4v-3.2zM319.9 439.2h3.2l2.4 2.4v3.2l-2.4 2.4h-3.2l-2.4 -2.4v-3.2zM325.3 438h3.2l2.4 2.4v3.2l-2.4 2.4h-3.2l-2.4 -2.4v-3.2zM330 436.8h3.2l2.4 2.4v3.2l-2.4 2.4h-3.2l-2.4 -2.4v-3.2zM334.4 435.6h3.2l2.4 2.4v3.2l-2.4 2.4h-3.2l-2.4 -2.4v-3.2zM339.4 434.4h3.2l2.4 2.4v3.2l-2.4 2.4h-3.2l-2.4 -2.4v-3.2zM344.1 433.2h3.2l2.4 2.4v3.2l-2.4 2.4h-3.2l-2.4 -2.4v-3.2zM348.2 432h3.2l2.4 2.4v3.2l-2.4 2.4h-3.2l-2.4 -2.4v-3.2zM353.3 430.8h3.2l2.4 2.4v3.2l-2.4 2.4h-3.2l-2.4 -2.4v-3.2zM357.8 429.6h3.2l2.4 2.4v3.2l-2.4 2.4h-3.2l-2.4 -2.4v-3.2zM362.4 428.4h3.2l2.4 2.4v3.2l-2.4 2.4h-3.2l-2.4 -2.4v-3.2zM366.7 427.2h3.2l2.4 2.4v3.2l-2.4 2.4h-3.2l-2.4 -2.4v-3.2zM371.5 426h3.2l2.4 2.4v3.2l-2.4 2.4h-3.2l-2.4 -2.4v-3.2zM376.3 424.8h3.2l2.4 2.4v3.2l-2.4 2.4h-3.2l-2.4 -2.4v-3.2zM381.5 423.6h3.2l2.4 2.4v3.2l-2.4 2.4h-3.2l-2.4 -2.4v-3.2zM386.5 422.4h3.2l2.4 2.4v3.2l-2.4 2.4h-3.2l-2.4 -2.4v-3.2zM391.6 421.2h3.2l2.4 2.4v3.2l-2.4 2.4h-3.2l-2.4 -2.4v-3.2zM397.2 420h3.2l2.4 2.4v3.2l-2.4 2.4h-3.2l-2.4 -2.4v-3.2zM402.2 418.8h3.2l2.4 2.4v3.2l-2.4 2.4h-3.2l-2.4 -2.4v-3.2zM407.7 417.6h3.2l2.4 2.4v3.2l-2.4 2.4h-3.2l-2.4 -2.4v-3.2zM412.9 416.4h3.2l2.4 2.4v3.2l-2.4 2.4h-3.2l-2.4 -2.4v-3.2zM419.2 415.2h3.2l2.4 2.4v3.2l-2.4 2.4h-3.2l-2.4 -2.4v-3.2zM424.8 414h3.2l2.4 2.4v3.2l-2.4 2.4h-3.2l-2.4 -2.4v-3.2zM430.7 412.8h3.2l2.4 2.4v3.2l-2.4 2.4h-3.2l-2.4 -2.4v-3.2zM436.7 411.6h3.2l2.4 2.4v3.2l-2.4 2.4h-3.2l-2.4 -2.4v-3.2zM442.6 410.4h3.2l2.4 2.4v3.2l-2.4 2.4h-3.2l-2.4 -2.4v-3.2zM448.6 409.2h3.2l2.4 2.4v3.2l-2.4 2.4h-3.2l-2.4 -2.4v-3.2zM454.2 408h3.2l2.4 2.4v3.2l-2.4 2.4h-3.2l-2.4 -2.4v-3.2zM459.7 406.8h3.2l2.4 2.4v3.2l-2.4 2.4h-3.2l-2.4 -2.4v-3.2zM464.9 405.6h3.2l2.4 2.4v3.2l-2.4 2.4h-3.2l-2.4 -2.4v-3.2zM470.3 404.4h3.2l2.4 2.4v3.2l-2.4 2.4h-3.2l-2.4 -2.4v-3.2zM475 403.2h3.2l2.4 2.4v3.2l-2.4 2.4h-3.2l-2.4 -2.4v-3.2zM479.6 402h3.2l2.4 2.4v3.2l-2.4 2.4h-3.2l-2.4 -2.4v-3.2zM484.3 400.8h3.2l2.4 2.4v3.2l-2.4 2.4h-3.2l-2.4 -2.4v-3.2zM489.1 399.6h3.2l2.4 2.4v3.2l-2.4 2.4h-3.2l-2.4 -2.4v-3.2zM494.3 398.4h3.2l2.4 2.4v3.2l-2.4 2.4h-3.2l-2.4 -2.4v-3.2zM498.9 397.2h3.2l2.4 2.4v3.2l-2.4 2.4h-3.2l-2.4 -2.4v-3.2zM503.7 396h3.2l2.4 2.4v3.2l-2.4 2.4h-3.2l-2.4 -2.4v-3.2zM508.5 394.8h3.2l2.4 2.4v3.2l-2.4 2.4h-3.2l-2.4 -2.4v-3.2zM513.3 393.6h3.2l2.4 2.4v3.2l-2.4 2.4h-3.2l-2.4 -2.4v-3.2zM518.4 392.4h3.2l2.4 2.4v3.2l-2.4 2.4h-3.2l-2.4 -2.4v-3.2zM523.4 391.2h3.2l2.4 2.4v3.2l-2.4 2.4h-3.2l-2.4 -2.4v-3.2zM528 390h3.2l2.4 2.4v3.2l-2.4 2.4h-3.2l-2.4 -2.4v-3.2zM532.9 388.8h3.2l2.4 2.4v3.2l-2.4 2.4h-3.2l-2.4 -2.4v-3.2zM537.7 387.6h3.2l2.4 2.4v3.2l-2.4 2.4h-3.2l-2.4 -2.4v-3.2zM542.5 386.4h3.2l2.4 2.4v3.2l-2.4 2.4h-3.2l-2.4 -2.4v-3.2zM546.9 385.2h3.2l2.4 2.4v3.2l-2.4 2.4h-3.2l-2.4 -2.4v-3.2zM551.9 384h3.2l2.4 2.4v3.2l-2.4 2.4h-3.2l-2.4 -2.4v-3.2zM556.5 382.8h3.2l2.4 2.4v3.2l-2.4 2.4h-3.2l-2.4 -2.4v-3.2zM561.6 381.6h3.2l2.4 2.4v3.2l-2.4 2.4h-3.2l-2.4 -2.4v-3.2zM566 380.4h3.2l2.4 2.4v3.2l-2.4 2.4h-3.2l-2.4 -2.4v-3.2zM571 379.2h3.2l2.4 2.4v3.2l-2.4 2.4h-3.2l-2.4 -2.4v-3.2zM575.8 378h3.2l2.4 2.4v3.2l-2.4 2.4h-3.2l-2.4 -2.4v-3.2zM580.1 376.8h3.2l2.4 2.4v3.2l-2.4 2.4h-3.2l-2.4 -2.4v-3.2zM584.5 375.6h3.2l2.4 2.4v3.2l-2.4 2.4h-3.2l-2.4 -2.4v-3.2zM588.9 374.4h3.2l2.4 2.4v3.2l-2.4 2.4h-3.2l-2.4 -2.4v-3.2zM593.1 373.2h3.2l2.4 2.4v3.2l-2.4 2.4h-3.2l-2.4 -2.4v-3.2zM596.9 372h3.2l2.4 2.4v3.2l-2.4 2.4h-3.2l-2.4 -2.4v-3.2zM601.1 370.8h3.2l2.4 2.4v3.2l-2.4 2.4h-3.2l-2.4 -2.4v-3.2zM605.2 369.6h3.2l2.4 2.4v3.2l-2.4 2.4h-3.2l-2.4 -2.4v-3.2zM608.4 368.4h3.2l2.4 2.4v3.2l-2.4 2.4h-3.2l-2.4 -2.4v-3.2zM612.1 367.2h3.2l2.4 2.4v3.2l-2.4 2.4h-3.2l-2.4 -2.4v-3.2zM615.4 366h3.2l2.4 2.4v3.2l-2.4 2.4h-3.2l-2.4 -2.4v-3.2zM619.2 364.8h3.2l2.4 2.4v3.2l-2.4 2.4h-3.2l-2.4 -2.4v-3.2zM622.2 363.6h3.2l2.4 2.4v3.2l-2.4 2.4h-3.2l-2.4 -2.4v-3.2zM625.5 362.4h3.2l2.4 2.4v3.2l-2.4 2.4h-3.2l-2.4 -2.4v-3.2zM629.2 361.2h3.2l2.4 2.4v3.2l-2.4 2.4h-3.2l-2.4 -2.4v-3.2zM631.8 360h3.2l2.4 2.4v3.2l-2.4 2.4h-3.2l-2.4 -2.4v-3.2zM635 358.8h3.2l2.4 2.4v3.2l-2.4 2.4h-3.2l-2.4 -2.4v-3.2zM638 357.6h3.2l2.4 2.4v3.2l-2.4 2.4h-3.2l-2.4 -2.4v-3.2zM640.6 356.4h3.2l2.4 2.4v3.2l-2.4 2.4h-3.2l-2.4 -2.4v-3.2zM643.6 355.2h3.2l2.4 2.4v3.2l-2.4 2.4h-3.2l-2.4 -2.4v-3.2zM646.9 354h3.2l2.4 2.4v3.2l-2.4 2.4h-3.2l-2.4 -2.4v-3.2zM649.3 352.8h3.2l2.4 2.4v3.2l-2.4 2.4h-3.2l-2.4 -2.4v-3.2zM652 351.6h3.2l2.4 2.4v3.2l-2.4 2.4h-3.2l-2.4 -2.4v-3.2zM654.4 350.4h3.2l2.4 2.4v3.2l-2.4 2.4h-3.2l-2.4 -2.4v-3.2zM657.3 349.2h3.2l2.4 2.4v3.2l-2.4 2.4h-3.2l-2.4 -2.4v-3.2zM660.1 348h3.2l2.4 2.4v3.2l-2.4 2.4h-3.2l-2.4 -2.4v-3.2zM662.3 346.8h3.2l2.4 2.4v3.2l-2.4 2.4h-3.2l-2.4 -2.4v-3.2zM664.2 345.6h3.2l2.4 2.4v3.2l-2.4 2.4h-3.2l-2.4 -2.4v-3.2zM666.2 344.4h3.2l2.4 2.4v3.2l-2.4 2.4h-3.2l-2.4 -2.4v-3.2zM668.2 343.2h3.2l2.4 2.4v3.2l-2.4 2.4h-3.2l-2.4 -2.4v-3.2zM670.1 342h3.2l2.4 2.4v3.2l-2.4 2.4h-3.2l-2.4 -2.4v-3.2zM671.7 340.8h3.2l2.4 2.4v3.2l-2.4 2.4h-3.2l-2.4 -2.4v-3.2zM673.3 339.6h3.2l2.4 2.4v3.2l-2.4 2.4h-3.2l-2.4 -2.4v-3.2zM674.8 338.4h3.2l2.4 2.4v3.2l-2.4 2.4h-3.2l-2.4 -2.4v-3.2zM675.9 337.2h3.2l2.4 2.4v3.2l-2.4 2.4h-3.2l-2.4 -2.4v-3.2zM677.1 336h3.2l2.4 2.4v3.2l-2.4 2.4h-3.2l-2.4 -2.4v-3.2zM678.3 334.8h3.2l2.4 2.4v3.2l-2.4 2.4h-3.2l-2.4 -2.4v-3.2zM679.2 333.6h3.2l2.4 2.4v3.2l-2.4 2.4h-3.2l-2.4 -2.4v-3.2zM680.2 332.4h3.2l2.4 2.4v3.2l-2.4 2.4h-3.2l-2.4 -2.4v-3.2zM681.4 331.2h3.2l2.4 2.4v3.2l-2.4 2.4h-3.2l-2.4 -2.4v-3.2zM681.9 330h3.2l2.4 2.4v3.2l-2.4 2.4h-3.2l-2.4 -2.4v-3.2zM682.6 328.8h3.2l2.4 2.4v3.2l-2.4 2.4h-3.2l-2.4 -2.4v-3.2zM682.9 327.6h3.2l2.4 2.4v3.2l-2.4 2.4h-3.2l-2.4 -2.4v-3.2zM684 326.4h3.2l2.4 2.4v3.2l-2.4 2.4h-3.2l-2.4 -2.4v-3.2zM684.2 325.2h3.2l2.4 2.4v3.2l-2.4 2.4h-3.2l-2.4 -2.4v-3.2zM684.9 324h3.2l2.4 2.4v3.2l-2.4 2.4h-3.2l-2.4 -2.4v-3.2zM686 322.8h3.2l2.4 2.4v3.2l-2.4 2.4h-3.2l-2.4 -2.4v-3.2zM686.5 321.6h3.2l2.4 2.4v3.2l-2.4 2.4h-3.2l-2.4 -2.4v-3.2zM686.8 320.4h3.2l2.4 2.4v3.2l-2.4 2.4h-3.2l-2.4 -2.4v-3.2zM687 319.2h3.2l2.4 2.4v3.2l-2.4 2.4h-3.2l-2.4 -2.4v-3.2zM687.8 318h3.2l2.4 2.4v3.2l-2.4 2.4h-3.2l-2.4 -2.4v-3.2zM688.1 316.8h3.2l2.4 2.4v3.2l-2.4 2.4h-3.2l-2.4 -2.4v-3.2zM688.8 315.6h3.2l2.4 2.4v3.2l-2.4 2.4h-3.2l-2.4 -2.4v-3.2zM689.5 314.4h3.2l2.4 2.4v3.2l-2.4 2.4h-3.2l-2.4 -2.4v-3.2zM689.5 313.2h3.2l2.4 2.4v3.2l-2.4 2.4h-3.2l-2.4 -2.4v-3.2zM689.6 312h3.2l2.4 2.4v3.2l-2.4 2.4h-3.2l-2.4 -2.4v-3.2zM689.9 310.8h3.2l2.4 2.4v3.2l-2.4 2.4h-3.2l-2.4 -2.4v-3.2zM690.5 309.6h3.2l2.4 2.4v3.2l-2.4 2.4h-3.2l-2.4 -2.4v-3.2zM690.7 308.4h3.2l2.4 2.4v3.2l-2.4 2.4h-3.2l-2.4 -2.4v-3.2zM690.8 307.2h3.2l2.4 2.4v3.2l-2.4 2.4h-3.2l-2.4 -2.4v-3.2zM691.4 306h3.2l2.4 2.4v3.2l-2.4 2.4h-3.2l-2.4 -2.4v-3.2zM691.4 304.8h3.2l2.4 2.4v3.2l-2.4 2.4h-3.2l-2.4 -2.4v-3.2zM692.1 303.6h3.2l2.4 2.4v3.2l-2.4 2.4h-3.2l-2.4 -2.4v-3.2zM692.4 302.4h3.2l2.4 2.4v3.2l-2.4 2.4h-3.2l-2.4 -2.4v-3.2zM692.6 301.2h3.2l2.4 2.4v3.2l-2.4 2.4h-3.2l-2.4 -2.4v-3.2zM692.6 300h3.2l2.4 2.4v3.2l-2.4 2.4h-3.2l-2.4 -2.4v-3.2zM693 298.8h3.2l2.4 2.4v3.2l-2.4 2.4h-3.2l-2.4 -2.4v-3.2zM693.1 297.6h3.2l2.4 2.4v3.2l-2.4 2.4h-3.2l-2.4 -2.4v-3.2zM693.2 296.4h3.2l2.4 2.4v3.2l-2.4 2.4h-3.2l-2.4 -2.4v-3.2zM693.3 295.2h3.2l2.4 2.4v3.2l-2.4 2.4h-3.2l-2.4 -2.4v-3.2zM693.3 294h3.2l2.4 2.4v3.2l-2.4 2.4h-3.2l-2.4 -2.4v-3.2zM693.3 292.8h3.2l2.4 2.4v3.2l-2.4 2.4h-3.2l-2.4 -2.4v-3.2zM693.9 291.6h3.2l2.4 2.4v3.2l-2.4 2.4h-3.2l-2.4 -2.4v-3.2z"/>
</g>
<g shape-rendering="crispEdges"><rect x="204.5" y="102.5" width="270" height="148" fill="#fff" stroke="#000" stroke-width="1"/></g>
<g fill="none" stroke-width="1" shape-rendering="crispEdges">
<path stroke="#be001a" d="M271.5 140.5h6v6h-6z"/>
<path stroke="#14b414" d="M274.5 164.9l2.9 5.1h-5.8z"/>
<path stroke="#3a18c8" d="M274.5 190.7l3.8 3.8l-3.8 3.8l-3.8 -3.8z"/>
<path stroke="#f800a4" stroke-width="0.9" d="M272.9 215.5h3.2l2.4 2.4v3.2l-2.4 2.4h-3.2l-2.4 -2.4v-3.2z"/>
</g>
<g font-family="'Liberation Sans', sans-serif" font-size="21" fill="#000" letter-spacing="0.6">
<text x="338.5" y="150">x=50(mm)</text>
<text x="338.5" y="175">x=200(mm)</text>
<text x="338.5" y="200.5">x=650(mm)</text>
<text x="338.5" y="225.5">x=950(mm)</text>
</g>
<g font-family="'Liberation Sans', sans-serif" font-size="21.5" fill="#000" stroke="#fff" stroke-width="0.3">
<text x="94.5" y="92.4" text-anchor="end">3</text>
<text x="94.5" y="201.4" text-anchor="end">2</text>
<text x="94.5" y="309.4" text-anchor="end">1</text>
<text x="94.5" y="417.4" text-anchor="end">0</text>
<text x="94.5" y="525.4" text-anchor="end">-1</text>
<text x="94.5" y="634.4" text-anchor="end">-2</text>
<text x="103.5" y="648.3" text-anchor="middle">-0.2</text>
<text x="202.2" y="648.3" text-anchor="middle">0</text>
<text x="300.8" y="648.3" text-anchor="middle">0.2</text>
<text x="399.5" y="648.3" text-anchor="middle">0.4</text>
<text x="498.2" y="648.3" text-anchor="middle">0.6</text>
<text x="596.8" y="648.3" text-anchor="middle">0.8</text>
<text x="695.5" y="648.3" text-anchor="middle">1</text>
</g>
<g font-family="'Liberation Sans', sans-serif" font-weight="bold" font-size="25" fill="#000" stroke="#fff" stroke-width="0.5">
<text x="338" y="672">(U-U</text>
<text x="396" y="678.5" font-size="14.5" stroke="none">1</text>
<text x="403" y="672">)/</text>
<text x="426.5" y="671" font-weight="normal" font-size="24">Δ</text>
<text x="442.5" y="672">U</text>
<g transform="translate(56,380) rotate(-90)">
<text x="0" y="0">Y/</text>
<text x="26" y="0.5" font-weight="normal" font-size="23">δ</text>
<text x="37.5" y="8" font-size="15" stroke="none">w</text>
</g>
</g>
<g shape-rendering="crispEdges" fill="#000">
<rect x="0" y="0" width="791" height="1"/>
<rect x="0" y="0" width="1" height="704"/>
<rect x="790" y="0" width="1" height="704"/>
<rect x="0" y="703" width="791" height="1"/>
<rect x="0" y="702" width="791" height="1" fill="#888"/>
</g>
</svg>
</body>
</html>
